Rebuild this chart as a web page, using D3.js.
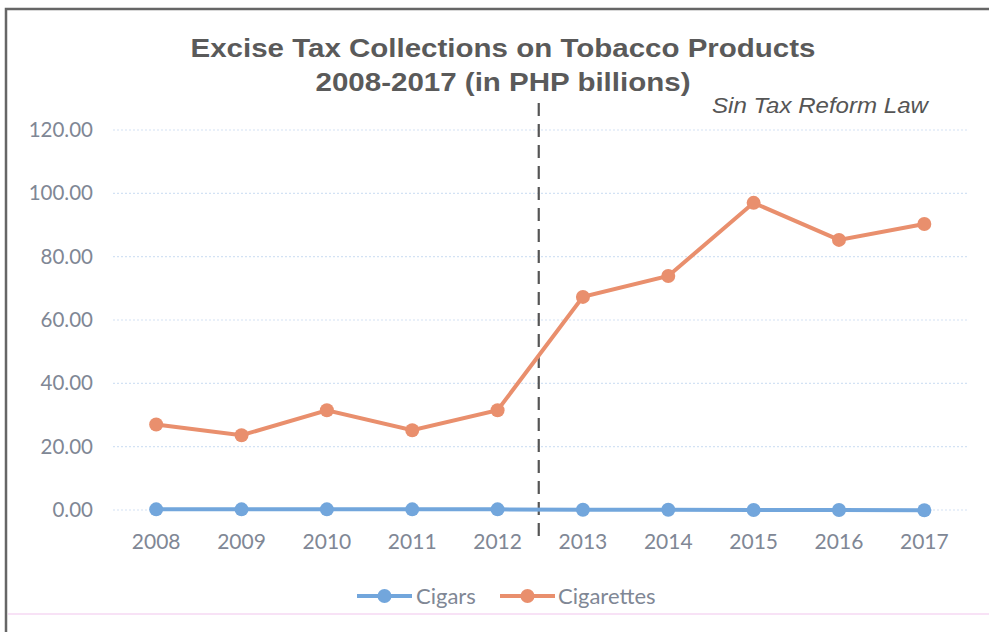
<!DOCTYPE html>
<html><head><meta charset="utf-8">
<script src="https://d3js.org/d3.v7.min.js"></script>
<style>body{margin:0;background:#fff}svg{display:block}</style>
</head><body>
<script>
const years = ["2008","2009","2010","2011","2012","2013","2014","2015","2016","2017"];
const cigars = [0.2,0.2,0.2,0.2,0.2,0.1,0.1,0.0,0.0,-0.1];
const cigarettes = [27.0,23.6,31.5,25.2,31.5,67.3,73.9,97.0,85.3,90.3];
const yTicks = [0,20,40,60,80,100,120];
const titleLines = ["Excise Tax Collections on Tobacco Products","2008-2017 (in PHP billions)"];
const annotation = "Sin Tax Reform Law";
const seriesNames = ["Cigars","Cigarettes"];
const colors = ["#72a6dc","#e98f6d"];

const W=989,H=632;
const svg=d3.select("body").append("svg").attr("width",W).attr("height",H);
// frame
svg.append("path").attr("d","M6,632 V9 H989").attr("fill","none").attr("stroke","#666").attr("stroke-width",2.5);
svg.append("line").attr("x1",8).attr("x2",989).attr("y1",614).attr("y2",614).attr("stroke","#f6d8f3").attr("stroke-width",1.5);

const x=d3.scaleBand().domain(years).range([113.5,967]);
const y=d3.scaleLinear().domain([0,120]).range([510,130]);

// gridlines
svg.append("g").selectAll("line").data(yTicks).join("line")
 .attr("x1",113).attr("x2",967).attr("y1",d=>y(d)).attr("y2",d=>y(d))
 .attr("stroke","#d3e2f4").attr("stroke-width",1.2).attr("stroke-dasharray","2,2");

const lblFont="Lato, 'Open Sans', sans-serif";
// y axis
const ya=svg.append("g").attr("transform","translate(93,0)")
 .call(d3.axisLeft(y).tickValues(yTicks).tickFormat(d3.format(".2f")).tickSize(0).tickPadding(0));
ya.select(".domain").remove();
ya.selectAll("text").attr("font-family",lblFont).attr("font-size",20.5).attr("fill","#808795");

// x axis
const xa=svg.append("g").attr("transform","translate(0,510)")
 .call(d3.axisBottom(x).tickSize(0).tickPadding(24));
xa.select(".domain").remove();
xa.selectAll("text").attr("font-family",lblFont).attr("font-size",21).attr("fill","#808795");

// dashed line
const xd=x("2013")-1.5;
svg.append("line").attr("x1",xd).attr("x2",xd).attr("y1",103).attr("y2",541)
 .attr("stroke","#555").attr("stroke-width",2.2).attr("stroke-dasharray","13,8");

const line=d3.line().x((d,i)=>x(years[i])+x.bandwidth()/2).y(d=>y(d));
[cigars,cigarettes].forEach((s,k)=>{
  svg.append("path").datum(s).attr("d",line).attr("fill","none").attr("stroke",colors[k]).attr("stroke-width",4);
  svg.append("g").selectAll("circle").data(s).join("circle")
   .attr("cx",(d,i)=>x(years[i])+x.bandwidth()/2).attr("cy",d=>y(d)).attr("r",7).attr("fill",colors[k]);
});

// title
const tl=[625,375];
svg.append("g").selectAll("text").data(titleLines).join("text")
 .attr("x",503).attr("y",(d,i)=>57+i*34).attr("text-anchor","middle")
 .attr("font-family","'Liberation Sans', Arial, sans-serif").attr("font-weight","bold").attr("font-size",25)
 .attr("textLength",(d,i)=>tl[i]).attr("lengthAdjust","spacingAndGlyphs")
 .attr("fill","#5a5a5a").text(d=>d);

svg.append("text").attr("x",712).attr("y",113)
 .attr("font-family","'Liberation Sans', Arial, sans-serif").attr("font-style","italic").attr("font-size",22)
 .attr("textLength",216).attr("lengthAdjust","spacingAndGlyphs")
 .attr("fill","#555").text(annotation);

// legend
const lg=[{x0:357,t:416},{x0:500,t:558}];
lg.forEach((p,k)=>{
  const g=svg.append("g");
  g.append("line").attr("x1",p.x0).attr("x2",p.x0+55).attr("y1",596).attr("y2",596).attr("stroke",colors[k]).attr("stroke-width",4);
  g.append("circle").attr("cx",p.x0+27.5).attr("cy",596).attr("r",7).attr("fill",colors[k]);
  g.append("text").attr("x",p.t).attr("y",603.5).attr("font-family",lblFont).attr("font-size",22)
   .attr("fill","#808795").text(seriesNames[k]);
});
</script>
</body></html>
